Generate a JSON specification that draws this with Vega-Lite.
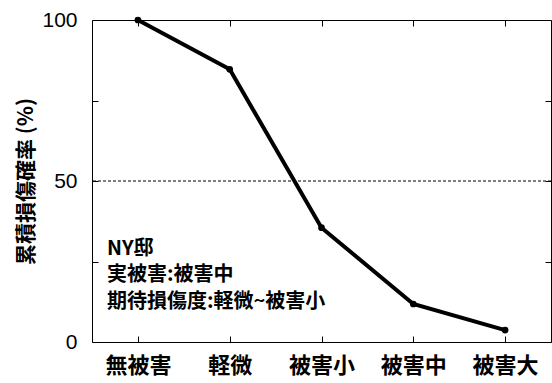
{
  "$schema": "https://vega.github.io/schema/vega-lite/v6.json",
  "width": 459,
  "height": 322,
  "autosize": {"type": "none"},
  "padding": {"left": 92, "top": 20, "right": 1, "bottom": 41},
  "background": "white",
  "config": {
    "view": {"stroke": "black", "strokeWidth": 1},
    "font": "Noto Sans CJK JP",
    "axis": {"domainColor": "black", "tickColor": "black", "labelColor": "#000000", "titleColor": "#000000", "grid": false, "domainWidth": 1, "tickWidth": 1}
  },
  "datasets": {
    "curve": [
      {"damage": "無被害", "p": 100},
      {"damage": "軽微", "p": 84.7},
      {"damage": "被害小", "p": 35.5},
      {"damage": "被害中", "p": 11.8},
      {"damage": "被害大", "p": 3.7}
    ],
    "notes": [
      {"text": "NY邸", "y": 29},
      {"text": "実被害:被害中", "y": 20.7},
      {"text": "期待損傷度:軽微~被害小", "y": 12.4}
    ],
    "ref": [{"y": 50}]
  },
  "layer": [
    {
      "data": {"name": "ref"},
      "mark": {"type": "rule", "color": "black", "strokeWidth": 1, "strokeDash": [3, 2]},
      "encoding": {
        "y": {"field": "y", "type": "quantitative", "scale": {"domain": [0, 100]}, "axis": null}
      }
    },
    {
      "data": {"name": "curve"},
      "mark": {"type": "line", "color": "black", "strokeWidth": 4},
      "encoding": {
        "x": {"field": "damage", "type": "ordinal", "sort": null, "scale": {"type": "point", "padding": 0.5},
          "axis": {"orient": "bottom", "title": null, "labelAngle": 0, "labelFontSize": 22, "labelFontWeight": "bold", "labelPadding": 19, "tickSize": -6, "domain": false}},
        "y": {"field": "p", "type": "quantitative", "scale": {"domain": [0, 100]},
          "axis": {"orient": "left", "title": "累積損傷確率 (%)", "titleFontSize": 21, "titleFontWeight": "bold", "titlePadding": 5,
            "values": [0, 25, 50, 75, 100], "labelExpr": "datum.value % 50 == 0 ? datum.label : ''",
            "labelFont": "Liberation Sans", "labelFontSize": 21, "labelPadding": 21, "tickSize": -6, "domain": false}}
      }
    },
    {
      "data": {"name": "curve"},
      "mark": {"type": "point", "filled": true, "color": "black", "size": 45, "opacity": 1},
      "encoding": {
        "x": {"field": "damage", "type": "ordinal", "sort": null, "scale": {"type": "point", "padding": 0.5},
          "axis": {"orient": "top", "title": null, "labels": false, "tickSize": -6, "domain": false}},
        "y": {"field": "p", "type": "quantitative", "scale": {"domain": [0, 100]},
          "axis": {"orient": "right", "title": null, "labels": false, "values": [0, 25, 50, 75, 100], "tickSize": -6, "domain": false}}
      }
    },
    {
      "data": {"name": "notes"},
      "mark": {"type": "text", "align": "left", "baseline": "middle", "fontSize": 20, "fontWeight": "bold", "dx": -31, "color": "black"},
      "encoding": {
        "x": {"datum": "無被害", "type": "ordinal", "scale": {"type": "point", "padding": 0.5}, "axis": null},
        "y": {"field": "y", "type": "quantitative", "scale": {"domain": [0, 100]}, "axis": null},
        "text": {"field": "text"}
      }
    }
  ],
  "resolve": {"axis": {"x": "independent", "y": "independent"}}
}
